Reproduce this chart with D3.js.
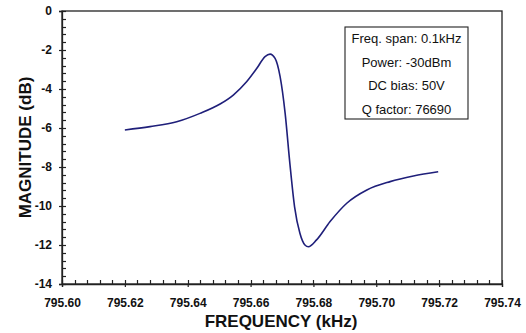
<!DOCTYPE html>
<html>
<head>
<meta charset="utf-8">
<script src="https://cdn.jsdelivr.net/npm/d3@7"></script>
<style>
  body { margin: 0; background: #fff; }
  svg text { font-family: "Liberation Sans", Arial, sans-serif; }
</style>
</head>
<body>
<div class="graph"></div>
<script>
// values
var freq = [795.620, 795.628, 795.6365, 795.6439, 795.6503, 795.6545, 795.6588, 795.662, 795.6646,
            795.6662, 795.6678, 795.6694, 795.671, 795.6725, 795.674, 795.6757, 795.6773, 795.6784,
            795.681, 795.6853, 795.6906, 795.697, 795.7044, 795.7118, 795.7197];
var magnitude = [-6.10, -5.93, -5.68, -5.25, -4.77, -4.31, -3.62, -2.94, -2.34,
                 -2.21, -2.43, -3.37, -5.25, -7.81, -10.04, -11.4, -12.0, -12.09,
                 -11.74, -10.8, -9.86, -9.18, -8.75, -8.46, -8.24];
var xTicks = [795.60, 795.62, 795.64, 795.66, 795.68, 795.70, 795.72, 795.74];
var yTicks = [0, -2, -4, -6, -8, -10, -12, -14];
var infoLines = ["Freq. span: 0.1kHz", "Power: -30dBm", "DC bias: 50V", "Q factor: 76690"];

var w = 526, h = 333;
var plotLeft = 62, plotRight = 502, plotTop = 11, plotBottom = 284;

var svg = d3.select(".graph").append("svg")
  .attr("width", w)
  .attr("height", h);

var x = d3.scaleLinear().domain([795.60, 795.74]).range([plotLeft, plotRight]);
var y = d3.scaleLinear().domain([-14, 0]).range([plotBottom, plotTop]);

var xMinor = d3.range(0, 36).map(function(i) { return 795.60 + i * 0.004; });
var yMinor = d3.range(0, 36).map(function(i) { return -i * 0.4; });

function styleAxis(g) {
  g.selectAll("path").attr("stroke", "#222").attr("stroke-width", 1.3);
  g.selectAll("line").attr("stroke", "#222").attr("stroke-width", 1.2);
  g.selectAll("text").attr("font-size", "12px").attr("font-weight", "bold").attr("fill", "#111");
}

// frame
svg.append("rect")
  .attr("x", plotLeft).attr("y", plotTop)
  .attr("width", plotRight - plotLeft).attr("height", plotBottom - plotTop)
  .attr("fill", "none").attr("stroke", "#222").attr("stroke-width", 1.3);

// major ticks cross the axis and carry labels
var gx = svg.append("g").attr("transform", "translate(0," + plotBottom + ")")
  .call(d3.axisBottom(x).tickValues(xTicks).tickSize(3).tickPadding(11)
    .tickFormat(d3.format(".2f")));
styleAxis(gx);

var gy = svg.append("g").attr("transform", "translate(" + plotLeft + ",0)")
  .call(d3.axisLeft(y).tickValues(yTicks).tickSize(3).tickPadding(7)
    .tickFormat(d3.format("d")));
styleAxis(gy);
gy.selectAll("text").text(function(d) { return d === 0 ? "0" : "-" + Math.abs(d); });

// inward minor ticks
svg.append("g").selectAll("line")
  .data(xMinor)
  .enter()
  .append("line")
  .attr("x1", function(d) { return Math.round(x(d)) + 0.5; })
  .attr("x2", function(d) { return Math.round(x(d)) + 0.5; })
  .attr("y1", plotBottom)
  .attr("y2", plotBottom - 4)
  .attr("stroke", "#222")
  .attr("stroke-width", 1.2);

svg.append("g").selectAll("line")
  .data(yMinor)
  .enter()
  .append("line")
  .attr("x1", plotLeft)
  .attr("x2", plotLeft + 4)
  .attr("y1", function(d) { return Math.round(y(d)) + 0.5; })
  .attr("y2", function(d) { return Math.round(y(d)) + 0.5; })
  .attr("stroke", "#222")
  .attr("stroke-width", 1.2);

// curve
var line = d3.line()
  .x(function(d, i) { return x(freq[i]); })
  .y(function(d) { return y(d); })
  .curve(d3.curveMonotoneX);

svg.append("path")
  .datum(magnitude)
  .attr("d", line)
  .attr("fill", "none")
  .attr("stroke", "#1f1f7a")
  .attr("stroke-width", 1.6);

// info box
svg.append("rect")
  .attr("x", 345).attr("y", 27)
  .attr("width", 123).attr("height", 92)
  .attr("fill", "#fff").attr("stroke", "#222").attr("stroke-width", 1.1);

svg.selectAll(".info")
  .data(infoLines)
  .enter()
  .append("text")
  .attr("class", "info")
  .attr("x", 406.5)
  .attr("y", function(d, i) { return 43 + i * 23.5; })
  .attr("text-anchor", "middle")
  .attr("font-size", "13px")
  .attr("fill", "#111")
  .text(function(d) { return d; });

// axis titles
svg.append("text")
  .attr("x", 281).attr("y", 327)
  .attr("text-anchor", "middle")
  .attr("font-size", "17px")
  .attr("font-weight", "bold")
  .attr("fill", "#111")
  .text("FREQUENCY (kHz)");

svg.append("text")
  .attr("transform", "translate(31,147.5) rotate(-90)")
  .attr("text-anchor", "middle")
  .attr("font-size", "17px")
  .attr("font-weight", "bold")
  .attr("fill", "#111")
  .text("MAGNITUDE (dB)");
</script>
</body>
</html>
